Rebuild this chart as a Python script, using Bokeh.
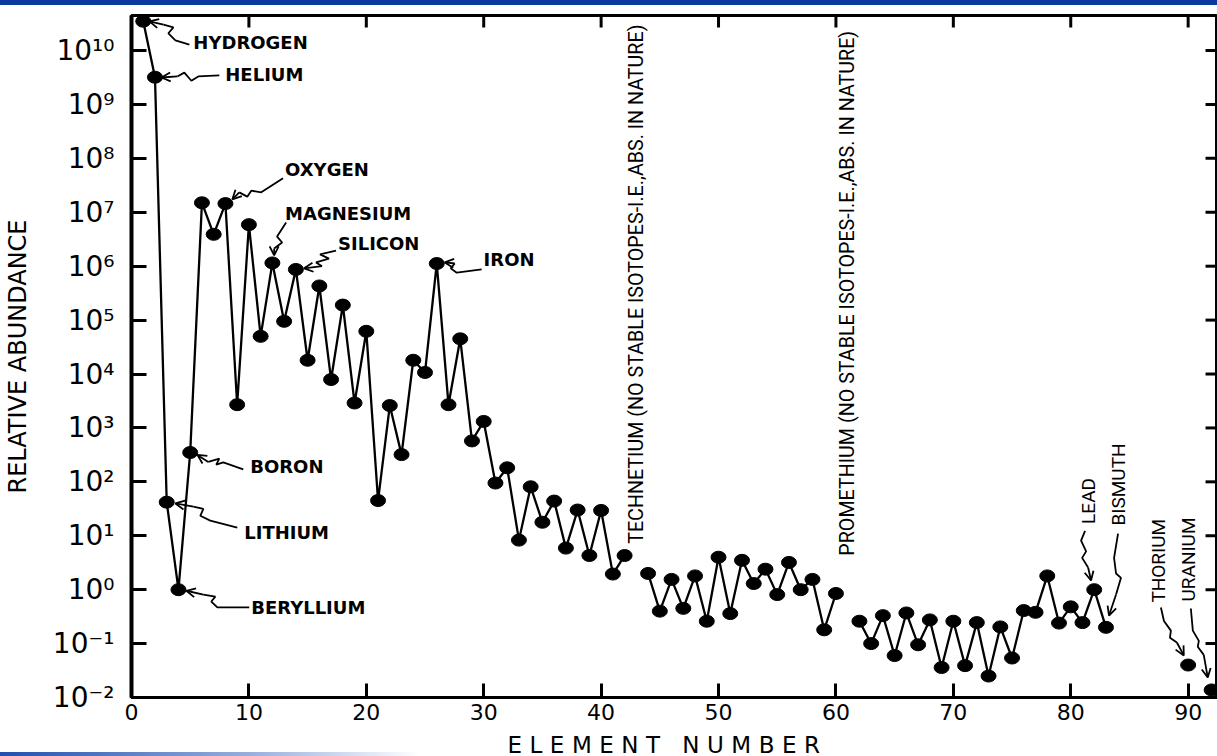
import math
from bokeh.plotting import figure
from bokeh.models import (Label, Arrow, OpenHead, FixedTicker,
                          CustomJSTickFormatter, Div)
from bokeh.layouts import column
from bokeh.embed import file_html
from bokeh.resources import INLINE

# ---------------- data (relative abundance vs element number) ----------------
z_light = list(range(1, 43))
abund_light = [3.5e10, 3.2e9, 42, 1.0, 350, 1.5e7, 3.9e6, 1.45e7, 2700, 5.9e6,
               5.0e4, 1.15e6, 9.5e4, 8.7e5, 1.8e4, 4.3e5, 7900, 1.9e5, 2900, 6.2e4,
               45, 2600, 320, 1.8e4, 1.07e4, 1.12e6, 2700, 4.5e4, 575, 1320,
               95, 182, 8.3, 81, 17.8, 44, 5.9, 30, 4.3, 29.5, 1.95, 4.3]
z_mid = list(range(44, 61))
abund_mid = [2.0, 0.40, 1.55, 0.45, 1.8, 0.26, 4.0, 0.36, 3.5, 1.3,
             2.4, 0.81, 3.2, 1.0, 1.55, 0.18, 0.85]
z_heavy = list(range(62, 84))
abund_heavy = [0.26, 0.10, 0.33, 0.060, 0.37, 0.095, 0.275, 0.036, 0.26, 0.039,
               0.245, 0.025, 0.204, 0.054, 0.41, 0.38, 1.8, 0.24, 0.48, 0.245,
               1.0, 0.20]
z_actinides = [90, 92]
abund_actinides = [0.040, 0.0138]

x_ticks = [0, 10, 20, 30, 40, 50, 60, 70, 80, 90]
y_decades = list(range(-2, 11))

X_MAX = 92.5
Y_MIN, Y_MAX = 1e-2, 10 ** 10.65

# ---------------- figure ----------------
p = figure(width=1217, height=723, x_range=(0, X_MAX), y_range=(Y_MIN, Y_MAX),
           y_axis_type="log", output_backend="svg", toolbar_location=None,
           min_border_left=128, min_border_right=0, min_border_top=10,
           min_border_bottom=31, background_fill_color="white",
           border_fill_color="white")
p.grid.visible = False
p.outline_line_color = "black"
p.outline_line_width = 3

# bottom axis
xa = p.xaxis[0]
xa.ticker = FixedTicker(ticks=x_ticks, minor_ticks=[])
xa.major_tick_in = 14
xa.major_tick_out = 0
xa.major_tick_line_width = 3
xa.axis_line_width = 3
xa.major_label_text_font = "DejaVu Sans"
xa.major_label_text_font_size = "22px"
xa.major_label_text_color = "black"
xa.major_label_standoff = 6

sup_js = r"""
const sup = {"0":"\u2070","1":"\u00b9","2":"\u00b2","3":"\u00b3","4":"\u2074",
             "5":"\u2075","6":"\u2076","7":"\u2077","8":"\u2078","9":"\u2079","-":"\u207b"};
const e = Math.round(Math.log10(tick));
return "10" + String(e).split("").map(c => sup[c]).join("");
"""

ya = p.yaxis[0]
ya.ticker = FixedTicker(ticks=[10.0 ** k for k in y_decades], minor_ticks=[])
ya.formatter = CustomJSTickFormatter(code=sup_js)
ya.major_tick_in = 15
ya.major_tick_out = 0
ya.major_tick_line_width = 3
ya.minor_tick_line_color = None
ya.axis_line_width = 4
ya.major_label_text_font = "DejaVu Sans"
ya.major_label_text_font_size = "28px"
ya.major_label_text_color = "black"
ya.major_label_standoff = 17
ya.axis_label = "RELATIVE ABUNDANCE"
ya.axis_label_text_font = "DejaVu Sans"
ya.axis_label_text_font_style = "normal"
ya.axis_label_text_font_size = "24px"
ya.axis_label_text_color = "black"
ya.axis_label_standoff = 18

# mirrored inward ticks on the top and right edges of the frame
top_len = 10 ** (12 / 53.9)          # 12 px in log space
p.segment(x0=x_ticks[1:], y0=[Y_MAX] * 9, x1=x_ticks[1:], y1=[Y_MAX / top_len] * 9,
          line_color="black", line_width=3)
right_len = 12 / 11.77               # 12 px in element units
p.segment(x0=[X_MAX] * len(y_decades), y0=[10.0 ** k for k in y_decades],
          x1=[X_MAX - right_len] * len(y_decades), y1=[10.0 ** k for k in y_decades],
          line_color="black", line_width=3)

# ---------------- data marks ----------------
for zs, vs in [(z_light, abund_light), (z_mid, abund_mid), (z_heavy, abund_heavy)]:
    p.line(zs, vs, line_color="black", line_width=2.3)

for zs, vs in [(z_light, abund_light), (z_mid, abund_mid), (z_heavy, abund_heavy),
               (z_actinides, abund_actinides)]:
    p.ellipse(x=zs, y=vs, width=15, height=12, width_units="screen",
              height_units="screen", fill_color="black", line_color="black")

# ---------------- annotations ----------------
def lbl(text, z, logv, angle=0.0, font="DejaVu Sans", size="18px", style="bold"):
    p.add_layout(Label(x=z, y=10 ** logv, text=text, angle=angle,
                       text_align="left", text_baseline="middle",
                       text_font=font, text_font_size=size, text_font_style=style,
                       text_color="black"))

def wiggle(points):
    xs = [pt[0] for pt in points]
    ys = [10 ** pt[1] for pt in points]
    p.line(xs[:-1], ys[:-1], line_color="black", line_width=1.8)
    p.add_layout(Arrow(x_start=xs[-2], y_start=ys[-2], x_end=xs[-1], y_end=ys[-1],
                       line_width=1.8, line_color="black",
                       end=OpenHead(size=9, line_width=1.8, line_color="black")))

lbl("HYDROGEN", 5.27, 10.15)
wiggle([(4.93, 10.11), (3.74, 10.19), (3.14, 10.32), (3.57, 10.43), (2.72, 10.48), (1.53, 10.54)])
lbl("HELIUM", 7.99, 9.55)
wiggle([(7.48, 9.54), (5.69, 9.52), (5.10, 9.44), (4.50, 9.59), (3.91, 9.52), (2.55, 9.50)])
lbl("OXYGEN", 13.08, 7.79)
wiggle([(12.91, 7.63), (11.05, 7.37), (10.20, 7.40), (9.86, 7.29), (9.18, 7.37), (8.59, 7.24)])
lbl("MAGNESIUM", 13.08, 6.98)
wiggle([(13.17, 6.81), (12.40, 6.55), (12.83, 6.44), (12.15, 6.33), (12.15, 6.20)])
lbl("SILICON", 17.59, 6.42)
wiggle([(17.42, 6.29), (16.06, 6.22), (16.82, 6.14), (15.72, 6.07), (16.23, 6.00), (14.70, 5.96)])
lbl("IRON", 29.99, 6.12)
wiggle([(29.82, 5.94), (27.70, 5.88), (27.19, 5.96), (27.53, 6.05), (26.68, 6.07)])
lbl("BORON", 10.11, 2.28)
wiggle([(9.52, 2.23), (7.82, 2.36), (7.22, 2.32), (7.48, 2.43), (6.54, 2.37), (5.61, 2.50)])
lbl("LITHIUM", 9.60, 1.06)
wiggle([(9.01, 1.15), (6.71, 1.28), (5.86, 1.37), (6.12, 1.50), (5.27, 1.54), (3.74, 1.60)])
lbl("BERYLLIUM", 10.20, -0.33)
wiggle([(10.03, -0.33), (7.31, -0.33), (6.80, -0.22), (7.14, -0.13), (6.12, -0.09), (4.67, -0.02)])

vfont = "Roboto"
lbl("TECHNETIUM (NO STABLE ISOTOPES-I.E.,ABS. IN NATURE)", 43.0, 0.85,
    angle=math.pi / 2, font=vfont, size="19.7px", style="normal")
lbl("PROMETHIUM (NO STABLE ISOTOPES-I.E.,ABS. IN NATURE)", 61.0, 0.63,
    angle=math.pi / 2, font=vfont, size="19.7px", style="normal")
lbl("LEAD", 81.48, 1.22, angle=math.pi / 2, font=vfont, size="19px", style="normal")
wiggle([(81.22, 1.09), (80.88, 0.91), (81.31, 0.71), (80.97, 0.59), (81.48, 0.41), (81.73, 0.17)])
lbl("BISMUTH", 84.11, 1.19, angle=math.pi / 2, font=vfont, size="19px", style="normal")
wiggle([(84.03, 1.04), (83.69, 0.59), (83.86, 0.30), (84.28, 0.22), (83.86, -0.09), (83.26, -0.48)])
lbl("THORIUM", 87.51, -0.24, angle=math.pi / 2, font=vfont, size="19px", style="normal")
wiggle([(87.68, -0.33), (87.94, -0.58), (88.53, -0.76), (88.45, -0.89), (89.04, -0.98), (89.63, -1.22)])
lbl("URANIUM", 90.06, -0.22, angle=math.pi / 2, font=vfont, size="19px", style="normal")
wiggle([(90.23, -0.35), (90.40, -0.76), (90.91, -0.95), (90.82, -1.06), (91.33, -1.21), (91.67, -1.63)])

bar = Div(text="", width=1217, height=5, margin=0,
          styles={"background-color": "#0a3a9e"})
x_title = Div(text=('<div style="width:1099px;margin-left:118px;text-align:center;'
                    'padding-top:5px;font-family:\'DejaVu Sans\';font-size:23px;'
                    'letter-spacing:7.5px;line-height:24px;color:black;">'
                    'ELEMENT NUMBER</div>'),
              width=1217, height=28, margin=0,
              styles={"background": "linear-gradient(to right, #1f4fae 0px, #9db3e0 260px, #ffffff 420px) no-repeat bottom / 100% 4px"})
layout = column(bar, p, x_title, spacing=0)

open("out.html", "w", encoding="utf-8").write(file_html(layout, INLINE))
